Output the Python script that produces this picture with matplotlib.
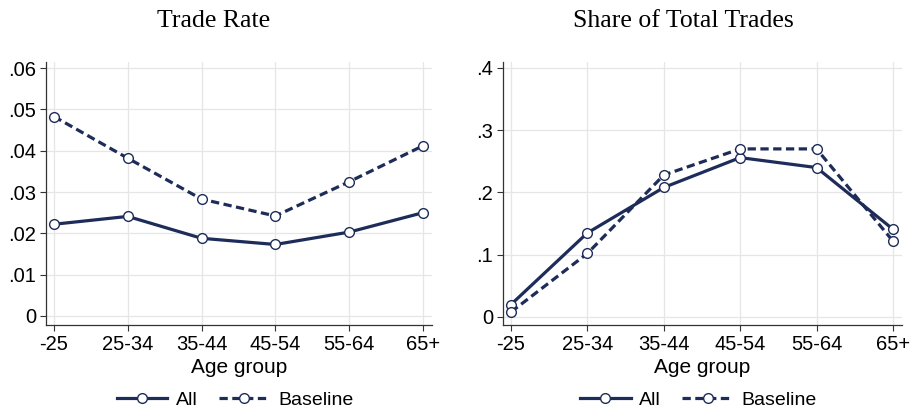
import matplotlib
matplotlib.use("Agg")
import matplotlib.pyplot as plt
import numpy as np

# DATA
age_groups = ["-25", "25-34", "35-44", "45-54", "55-64", "65+"]
rate_all = [0.0222, 0.0241, 0.0188, 0.0173, 0.0203, 0.0250]
rate_base = [0.0483, 0.0382, 0.0283, 0.0242, 0.0325, 0.0412]
share_all = [0.020, 0.135, 0.208, 0.256, 0.240, 0.141]
share_base = [0.008, 0.102, 0.228, 0.270, 0.270, 0.122]

rate_ticks = [0, 0.01, 0.02, 0.03, 0.04, 0.05, 0.06]
rate_ticklabels = ["0", ".01", ".02", ".03", ".04", ".05", ".06"]
share_ticks = [0, 0.1, 0.2, 0.3, 0.4]
share_ticklabels = ["0", ".1", ".2", ".3", ".4"]

NAVY = "#1e2c5a"
plt.rcParams["font.family"] = ["Liberation Sans", "DejaVu Sans"]

fig = plt.figure(figsize=(9.14, 4.09), dpi=100)
ax1 = fig.add_axes([0.0503, 0.2054, 0.4223, 0.643])
ax2 = fig.add_axes([0.5503, 0.2054, 0.4365, 0.643])

x = np.arange(len(age_groups))


def style_panel(ax, title, title_x, ticks, ticklabels, ylim, xlim, all_vals, base_vals):
    ax.plot(x, all_vals, color=NAVY, lw=2.3, marker="o", markersize=7,
            markerfacecolor="white", markeredgecolor=NAVY, markeredgewidth=1.0,
            label="All", zorder=3)
    ax.plot(x, base_vals, color=NAVY, lw=2.3, linestyle=(0, (2.6, 1.4)), marker="o",
            markersize=7, markerfacecolor="white", markeredgecolor=NAVY,
            markeredgewidth=1.0, label="Baseline", zorder=3)
    ax.set_xticks(x)
    ax.set_xticklabels(age_groups, fontsize=14.5)
    ax.set_yticks(ticks)
    ax.set_yticklabels(ticklabels, fontsize=14.5)
    ax.set_xlim(*xlim)
    ax.set_ylim(*ylim)
    ax.grid(True, color="#e6e6e6", lw=0.9)
    ax.set_axisbelow(True)
    for side in ("top", "right"):
        ax.spines[side].set_visible(False)
    for side in ("left", "bottom"):
        ax.spines[side].set_color("#333333")
        ax.spines[side].set_linewidth(0.9)
    ax.tick_params(direction="out", length=4, width=0.8, color="#333333", pad=3)
    ax.set_xlabel("Age group", fontsize=15, labelpad=3)
    ax.set_title(title, fontsize=18.5, family="Liberation Serif", pad=25, x=title_x)
    ax.legend(loc="center", bbox_to_anchor=(0.49, -0.285), ncol=2, frameon=False,
              fontsize=14, handlelength=2.6, columnspacing=1.1, handletextpad=0.45,
              borderpad=0)


style_panel(ax1, "Trade Rate", 0.433, rate_ticks, rate_ticklabels,
            (-0.0022, 0.0615), (-0.108, 5.122), rate_all, rate_base)
style_panel(ax2, "Share of Total Trades", 0.451, share_ticks, share_ticklabels,
            (-0.0129, 0.4096), (-0.105, 5.118), share_all, share_base)

fig.savefig("out.png", dpi=100)
